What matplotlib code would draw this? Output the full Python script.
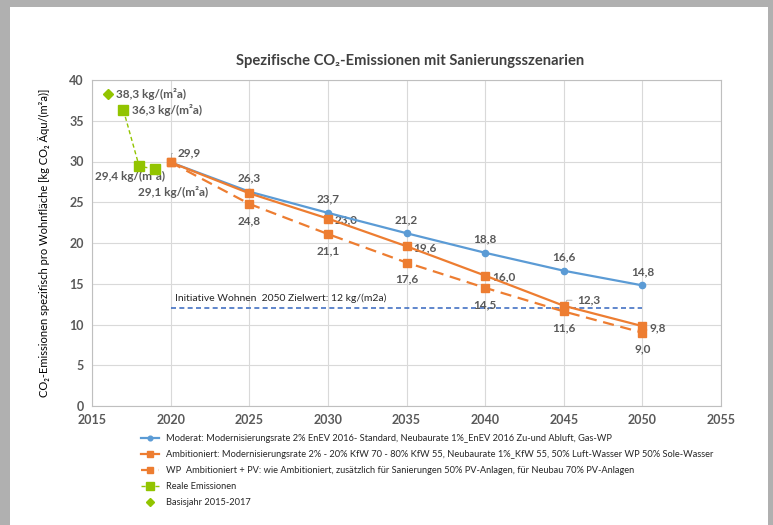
import matplotlib.pyplot as plt
from matplotlib.patches import Rectangle

plt.rcParams['font.family'] = ['Lato', 'DejaVu Sans']

# ---- data -----
jahre = [2020, 2025, 2030, 2035, 2040, 2045, 2050]
moderat = [29.9, 26.3, 23.7, 21.2, 18.8, 16.6, 14.8]
ambitioniert = [29.9, 26.1, 23.0, 19.6, 16.0, 12.3, 9.8]
wp_pv = [29.9, 24.8, 21.1, 17.6, 14.5, 11.6, 9.0]
real_jahre = [2017, 2018, 2019]
real_werte = [36.3, 29.4, 29.1]
basis_jahr = [2016]
basis_wert = [38.3]
ziel_jahre = [2020, 2050]
ziel_werte = [12, 12]

lbl_moderat = 'Moderat: Modernisierungsrate 2% EnEV 2016- Standard, Neubaurate 1%_EnEV 2016 Zu-und Abluft, Gas-WP'
lbl_ambi = 'Ambitioniert: Modernisierungsrate 2% - 20% KfW 70 - 80% KfW 55, Neubaurate 1%_KfW 55, 50% Luft-Wasser WP 50% Sole-Wasser'
lbl_wp = 'WP  Ambitioniert + PV: wie Ambitioniert, zusätzlich für Sanierungen 50% PV-Anlagen, für Neubau 70% PV-Anlagen'

blue = '#5b9bd5'
orange = '#ed7d31'
green = '#92c400'
zielblue = '#4472c4'
gray = '#595959'

fig = plt.figure(figsize=(7.73, 5.25), dpi=100, facecolor='#b0b0b0')
fig.patches.append(Rectangle((10/773, 0), 758/773, 1 - 7/525, transform=fig.transFigure,
                             facecolor='white', edgecolor='none', zorder=-10))
ax = fig.add_axes([92/773, 1 - 406/525, 629/773, 326/525])
ax.set_zorder(1)

ax.plot(jahre, moderat, color=blue, lw=1.6, marker='o', ms=4.5, label=lbl_moderat, zorder=4)
ax.plot(jahre, ambitioniert, color=orange, lw=1.6, marker='s', ms=5.5, label=lbl_ambi, zorder=5)
ax.plot(jahre, wp_pv, color=orange, lw=1.6, ls=(0, (5, 3)), marker='s', ms=5.5, label=lbl_wp, zorder=5)
ax.plot(real_jahre, real_werte, color=green, lw=1.0, ls=(0, (3, 2)), marker='s', ms=7,
        label='Reale Emissionen', zorder=5)
ax.plot(basis_jahr, basis_wert, color=green, ls='none', marker='D', ms=5,
        label='Basisjahr 2015-2017', zorder=5)
ax.plot(ziel_jahre, ziel_werte, color=zielblue, lw=1.2, ls=(0, (3, 2)), zorder=3)
ax.text(2020.3, 12.6, 'Initiative Wohnen  2050 Zielwert: 12 kg/(m2a)', fontsize=7.5,
        color='#262626', va='bottom')

def fmt(v):
    return f'{v:.1f}'.replace('.', ',')

lab = dict(fontsize=8.5, color=gray, fontweight='bold', textcoords='offset points')

# labels above for Moderat
for x, y in zip(jahre[1:], moderat[1:]):
    ax.annotate(fmt(y), (x, y), xytext=(0, 6), ha='center', va='bottom', **lab)
# labels right for Ambitioniert
for x, y in zip(jahre[2:], ambitioniert[2:]):
    if x == 2045:
        ax.annotate(fmt(y), (x, y), xytext=(10, 4), ha='left', va='center',
                    arrowprops=dict(arrowstyle='-', color='#a6a6a6', lw=0.6,
                                    connectionstyle='angle,angleA=0,angleB=60,rad=0'),
                    **lab)
    else:
        ax.annotate(fmt(y), (x, y), xytext=(5, -1), ha='left', va='center', **lab)
# labels below for WP
for x, y in zip(jahre[1:], wp_pv[1:]):
    ax.annotate(fmt(y), (x, y), xytext=(0, -8), ha='center', va='top', **lab)
ax.annotate(fmt(moderat[0]), (jahre[0], moderat[0]), xytext=(5, 7), ha='left', va='center',
            arrowprops=dict(arrowstyle='-', color='#a6a6a6', lw=0.6,
                            connectionstyle='angle,angleA=0,angleB=90,rad=0'), **lab)

unit = ' kg/(m²a)'
ax.annotate(fmt(basis_wert[0]) + unit, (basis_jahr[0], basis_wert[0]), xytext=(6, 0),
            ha='left', va='center', **lab)
ax.annotate(fmt(real_werte[0]) + unit, (real_jahre[0], real_werte[0]), xytext=(6, 0),
            ha='left', va='center', **lab)
ax.annotate(fmt(real_werte[1]) + unit, (real_jahre[1], real_werte[1]), xytext=(-32, -7),
            ha='left', va='center', **lab)
ax.annotate(fmt(real_werte[2]) + unit, (real_jahre[2], real_werte[2]), xytext=(-12, -17),
            ha='left', va='center', **lab)

ax.set_xlim(2015, 2055)
ax.set_ylim(0, 40)
ax.set_xticks(range(2015, 2056, 5))
ax.set_yticks(range(0, 41, 5))
ax.grid(True, color='#d9d9d9', lw=0.8)
ax.set_axisbelow(True)
for s in ax.spines.values():
    s.set_color('#bfbfbf')
    s.set_linewidth(0.8)
ax.tick_params(length=0, labelsize=9, labelcolor=gray, pad=6)
for t in ax.get_xticklabels() + ax.get_yticklabels():
    t.set_fontweight('bold')

ax.set_ylabel('CO₂-Emissionen spezifisch pro Wohnfläche [kg CO₂ Äqu/(m²a)]', fontsize=8,
              color='black', labelpad=14)
fig.text(410/773, 1 - 61/525, 'Spezifische CO₂-Emissionen mit Sanierungsszenarien',
         ha='center', va='center', fontsize=10.6, fontweight='bold', color='#404040')

handles, labels = ax.get_legend_handles_labels()
leg = fig.legend(handles, labels, loc='upper left', bbox_to_anchor=(141/773, 1 - 434/525),
                 frameon=False, fontsize=6.7, markerscale=0.75,
                 labelspacing=0.75, handlelength=1.9, handletextpad=0.8, borderaxespad=0,
                 borderpad=0)
for t in leg.get_texts():
    t.set_color('#262626')

fig.savefig('out.png', dpi=100, facecolor=fig.get_facecolor())
